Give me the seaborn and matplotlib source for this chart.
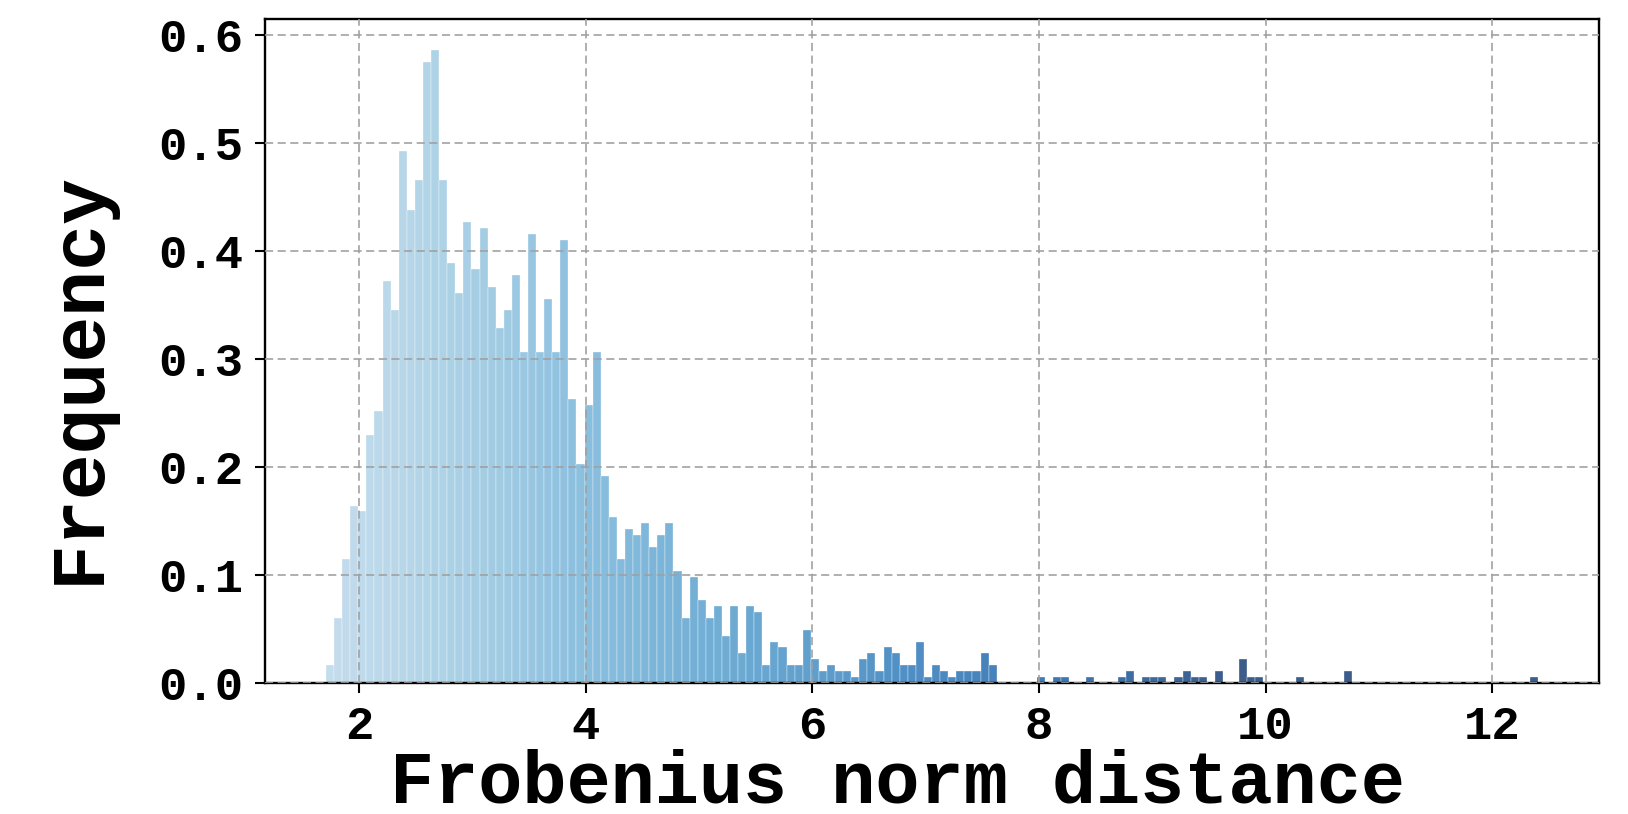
import numpy as np
import pandas as pd
import matplotlib
matplotlib.use("Agg")
import matplotlib.pyplot as plt
from matplotlib.colors import Normalize
import seaborn as sns

# ---- data (150 equal-width bins, density histogram) ----
bin_lo = 1.7055
bin_hi = 12.406
n_bins = 150
bin_counts = [
    3, 11, 21, 30, 29, 42, 46, 68, 63, 90, 80, 85, 105, 107, 85, 71, 66, 78, 70, 77,
    67, 60, 63, 69, 56, 76, 56, 65, 56, 75, 48, 37, 47, 56,
    35, 28, 21, 26, 25, 27, 23, 25, 27, 19, 11, 18, 14, 11, 13, 8, 13, 5, 13, 12,
    3, 7, 6, 3, 3, 9, 4, 2, 3, 2, 2, 1, 4, 5, 2,
    6, 5, 3, 3, 7, 1, 3, 2, 1, 2, 2, 2, 5, 3,
    0, 0, 0, 0, 0, 1, 0, 1, 1, 0, 0, 1, 0, 0, 0, 1, 2, 0, 1, 1, 1, 0, 1, 2, 1, 1,
    0, 2, 0, 0, 4, 1, 1, 0, 0, 0, 0, 1, 0, 0, 0, 0, 0, 2,
    0, 0, 0, 0, 0, 0, 0, 0, 0, 0, 0, 0, 0, 0, 0, 0, 0, 0, 0, 0, 0, 0,
    1,
]
x_ticks = [2, 4, 6, 8, 10, 12]
y_ticks = [0.0, 0.1, 0.2, 0.3, 0.4, 0.5, 0.6]
x_label = "Frobenius norm distance"
y_label = "Frequency"

edges = np.linspace(bin_lo, bin_hi, n_bins + 1)
centers = (edges[:-1] + edges[1:]) / 2
df = pd.DataFrame({"distance": centers, "count": bin_counts})

sns.set_style("ticks")
plt.rcParams["font.family"] = ["Liberation Mono", "DejaVu Sans Mono"]
plt.rcParams["font.weight"] = "bold"
plt.rcParams["text.color"] = "black"
plt.rcParams["axes.labelcolor"] = "black"

fig = plt.figure(figsize=(16.28, 8.14), dpi=100)
ax = fig.add_axes([0.163, 0.161, 0.819, 0.816])

sns.histplot(data=df, x="distance", weights="count", bins=n_bins,
             binrange=(bin_lo, bin_hi), stat="density", ax=ax,
             edgecolor="white", linewidth=0.3, alpha=0.8)

# colour gradient along x (Blues colormap, saturating at the dark end)
cmap = plt.get_cmap("Blues")
norm = Normalize(vmin=bin_lo, vmax=9.75, clip=True)
for p in ax.patches:
    xc = p.get_x() + p.get_width() / 2
    v = 0.3 + 0.7 * norm(xc)
    p.set_facecolor(cmap(v))
    p.set_alpha(0.79)

ax.set_xticks(x_ticks)
ax.set_yticks(y_ticks)
ax.set_yticklabels([f"{v:.1f}" for v in y_ticks])
ax.grid(True, linestyle=(0, (4.5, 2.5)), color="#a0a0a0", linewidth=1.3, alpha=0.9)
ax.set_axisbelow(False)
for s in ax.spines.values():
    s.set_visible(True)
    s.set_color("black")
    s.set_linewidth(1.7)
ax.tick_params(axis="both", direction="out", length=7, width=1.5, pad=9,
               labelsize=34, colors="black")
for lab in ax.get_xticklabels() + ax.get_yticklabels():
    lab.set_fontweight("bold")
ax.set_xlabel(x_label, fontsize=53, fontweight="bold", color="black")
ax.set_ylabel(y_label, fontsize=55, fontweight="bold", color="black")
ax.xaxis.set_label_coords(0.474, -0.099)
ax.yaxis.set_label_coords(-0.113, 0.46)

fig.savefig("out.png", dpi=100)
